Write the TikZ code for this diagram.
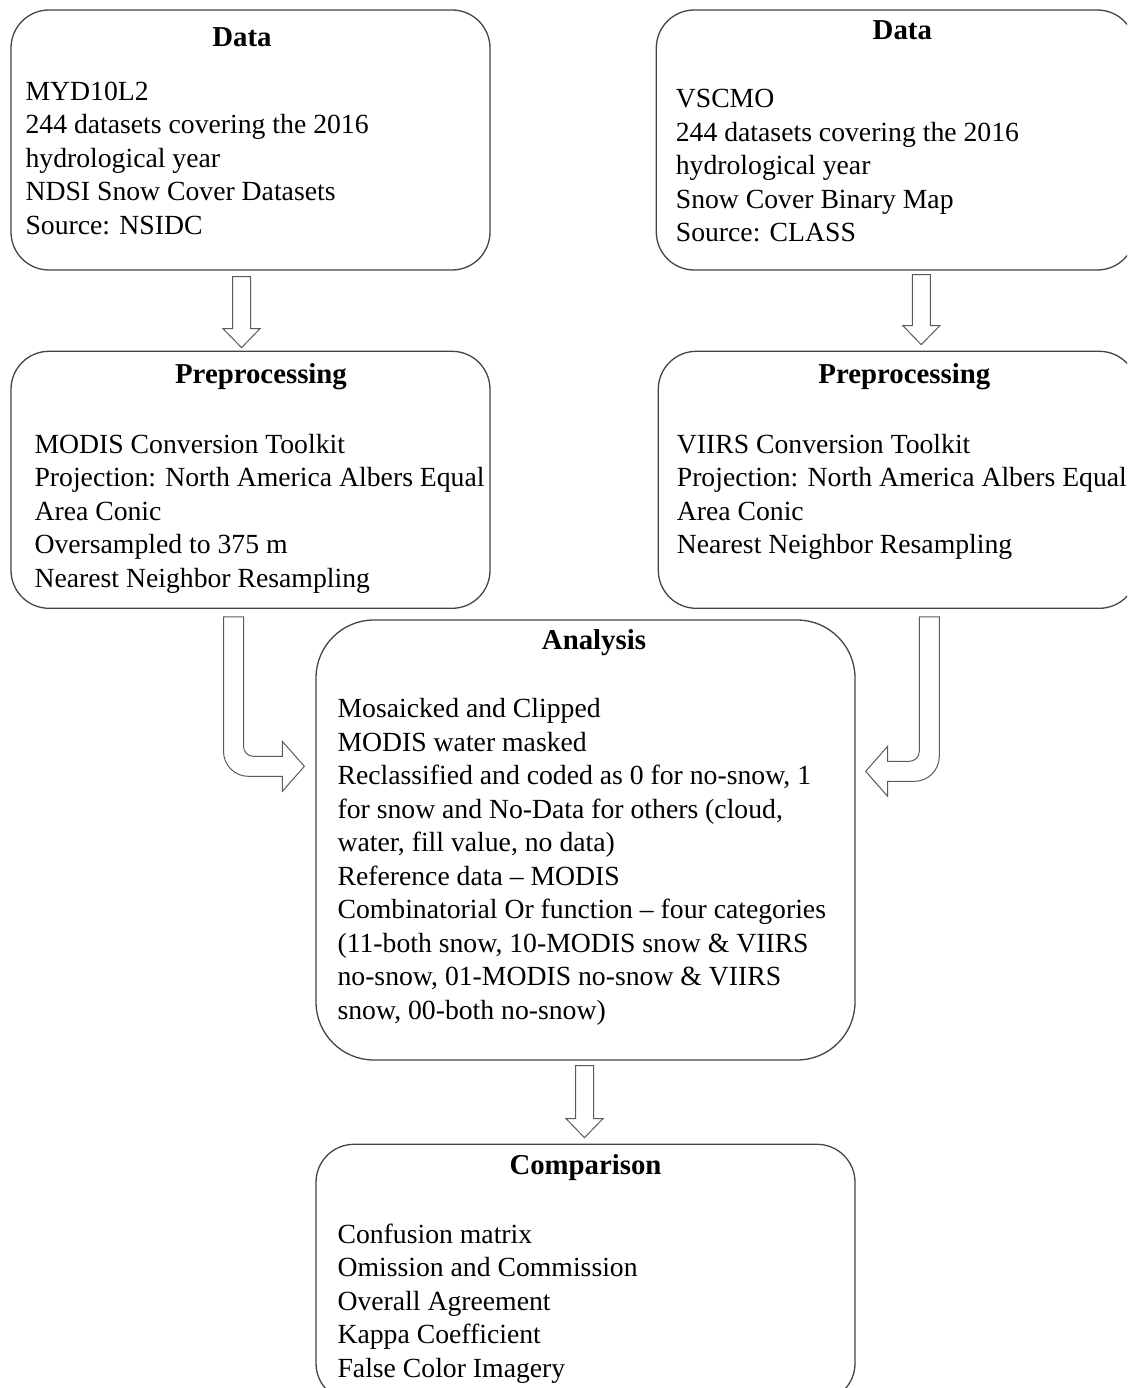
\documentclass[tikz,border=0pt]{standalone}
\usepackage{fontspec}
\setmainfont{Liberation Serif}
\usepackage{xcolor}
\definecolor{boxLine}{HTML}{444444}
\definecolor{arrowLine}{HTML}{5A5A5A}
\usepackage{tikz}
\usetikzlibrary{positioning,calc}
\newcommand{\bodySize}{\fontsize{27.7}{33.5}\selectfont}
\newcommand{\titleSize}{\fontsize{28.8}{34}\selectfont\bfseries}
\tikzset{
  stageBox/.style={
    rectangle,
    rounded corners=38pt,
    draw=boxLine,
    line width=1.3pt,
    minimum width=479pt,
    minimum height=260pt,
    inner sep=0pt
 },
  titleText/.style={
    font=\titleSize,
    inner sep=0pt,
    anchor=base
 },
  bodyText/.style={
    font=\bodySize,
    align=left,
    inner sep=0pt,
    anchor=north west
 },
  blockDown/.style={
    draw=arrowLine,
    line width=1pt,
    to path={
      let \p1=(\tikztostart), \p2=(\tikztotarget) in
      (\x1-9pt,\y1) -- (\x1+9pt,\y1) -- (\x1+9pt,\y2+19pt) -- (\x1+18.5pt,\y2+19pt)
      -- (\x1,\y2) -- (\x1-18.5pt,\y2+19pt) -- (\x1-9pt,\y2+19pt) -- cycle
    }
 },
  blockBend/.style={
    draw=arrowLine,
    line width=1pt,
    to path={
      let \p1=(\tikztostart), \p2=(\tikztotarget), \n1={sign(\x2-\x1)} in
      (\x1-\n1*10pt,\y1) -- (\x1-\n1*10pt,\y2+15pt)
      arc[start angle=90+90*\n1, end angle=90+180*\n1, radius=25pt]
      -- (\x2-\n1*22pt,\y2-10pt) -- (\x2-\n1*22pt,\y2-25pt) -- (\x2,\y2)
      -- (\x2-\n1*22pt,\y2+25pt) -- (\x2-\n1*22pt,\y2+10pt)
      -- (\x1+\n1*20pt,\y2+10pt)
      arc[start angle=270, end angle=270-90*\n1, radius=10pt]
      -- (\x1+\n1*10pt,\y1) -- cycle
    }
 }
}

\begin{document}
\begin{tikzpicture}[x=1pt,y=1pt]

  \useasboundingbox (0,0) rectangle (1127,-1388);
  \clip (0,0) rectangle (1127,-1388);

  % Data boxes on top
  \node[stageBox] (data1) at (250.5,-140) {};
  \node[stageBox, right=165pt of data1] (data2) {};

  % Preprocessing below them
  \node[stageBox, minimum height=257pt, below=80pt of data1] (pre1) {};
  \node[stageBox, minimum height=257pt, below=80pt of data2, xshift=2pt] (pre2) {};

  % Analysis in the middle
  \node[stageBox, rounded corners=58pt, minimum width=539pt, minimum height=440pt] (analysis) at (585.5,-840) {};

  % Comparison at the bottom
  \node[stageBox, minimum width=539pt, minimum height=257pt, below=83pt of analysis] (comparison) {};

  % titles
  \node[titleText] (data1Title) at ($(data1.north)+(-8.5,-37)$) {Data};
  \node[titleText] (data2Title) at ($(data2.north)+(6.5,-30)$) {Data};
  \node[titleText] (pre1Title) at ($(pre1.north)+(10.5,-33)$) {Preprocessing};
  \node[titleText] (pre2Title) at ($(pre2.north)+(6.5,-33)$) {Preprocessing};
  \node[titleText] (analysisTitle) at ($(analysis.north)+(8.5,-30)$) {Analysis};
  \node[titleText] (comparisonTitle) at ($(comparison.north)+(0,-31)$) {Comparison};

  % box contents
  \node[bodyText] (data1Text) at ($(data1.north west)+(15,-72.3)$)
    {MYD10L2\\244 datasets covering the 2016\\hydrological year\\NDSI Snow Cover Datasets\\Source: NSIDC};
  \node[bodyText] (data2Text) at ($(data2.north west)+(20,-79.7)$)
    {VSCMO\\244 datasets covering the 2016\\hydrological year\\Snow Cover Binary Map\\Source: CLASS};
  \node[bodyText] (pre1Text) at ($(pre1.north west)+(24,-83)$)
    {MODIS Conversion Toolkit\\Projection: North America Albers Equal\\Area Conic\\Oversampled to 375 m\\Nearest Neighbor Resampling};
  \node[bodyText] (pre2Text) at ($(pre2.north west)+(19,-83)$)
    {VIIRS Conversion Toolkit\\Projection: North America Albers Equal\\Area Conic\\Nearest Neighbor Resampling};
  \node[bodyText] (analysisText) at ($(analysis.north west)+(22,-79)$)
    {Mosaicked and Clipped\\MODIS water masked\\Reclassified and coded as 0 for no-snow, 1\\for snow and No-Data for others (cloud,\\water, fill value, no data)\\Reference data -- MODIS\\Combinatorial Or function -- four categories\\(11-both snow, 10-MODIS snow \& VIIRS\\no-snow, 01-MODIS no-snow \& VIIRS\\snow, 00-both no-snow)};
  \node[bodyText] (comparisonText) at ($(comparison.north west)+(22,-80)$)
    {Confusion matrix\\Omission and Commission\\Overall Agreement\\Kappa Coefficient\\False Color Imagery};

  % block arrows
  \draw[blockDown] ($(data1.south)+(-9,-6)$) to ($(pre1.north)+(-9,3)$);
  \draw[blockDown] ($(data2.south)+(25.5,-4)$) to ($(pre2.north)+(23.5,6)$);
  \draw[blockBend] ($(pre1.south)+(-17,-8)$) to ($(analysis.north west)+(-11,-147)$);
  \draw[blockBend] ($(pre2.south)+(31.5,-8)$) to ($(analysis.north east)+(10,-152)$);
  \draw[blockDown] ($(analysis.south)+(-1,-5)$) to ($(comparison.north)+(-1,6)$);

\end{tikzpicture}
\end{document}
